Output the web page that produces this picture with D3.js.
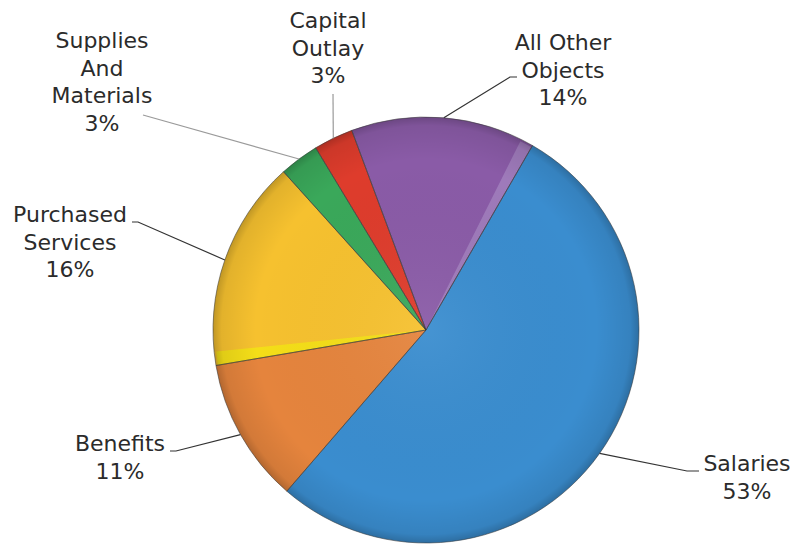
<!DOCTYPE html>
<html>
<head>
<meta charset="utf-8">
<script src="https://cdn.jsdelivr.net/npm/d3@7"></script>
<style>
  html, body { margin: 0; padding: 0; background: #fff; }
  svg { display: block; }
  text { font-family: "DejaVu Sans", Verdana, sans-serif; font-size: 22px; fill: #2b2b2b; }
</style>
</head>
<body>
<svg id="chart" width="795" height="552"></svg>
<script>
// Expenditure shares by object, in percent (clockwise from Salaries)
const categories = ["Salaries", "Benefits", "Purchased Services", "Supplies And Materials", "Capital Outlay", "All Other Objects"];
const shares = [53, 11, 16, 3, 3, 14];
const labelLines = [
  ["Salaries", "53%"],
  ["Benefits", "11%"],
  ["Purchased", "Services", "16%"],
  ["Supplies", "And", "Materials", "3%"],
  ["Capital", "Outlay", "3%"],
  ["All Other", "Objects", "14%"]
];

// Presentation settings
const colors = ["#3a8dcf", "#e5843d", "#f6c12f", "#3aa85a", "#de3c2c", "#8a5ba7"];
const bevels = [null, null, "start", null, null, "end"];   // lit edge of each wedge
const bevelColors = [null, null, "#f4e116", null, null, "#a07dbc"];
const bevelWidths = [0, 0, 0.065, 0, 0, 0.06];
const labelLayout = [
  { x: 747, y: 471, leader: [[699, 471], [687, 471]], stroke: "#333" },
  { x: 120, y: 451, leader: [[170, 451], [176, 451]], stroke: "#333" },
  { x: 70,  y: 222, leader: [[132, 222], [138, 222]], stroke: "#333" },
  { x: 102, y: 48,  leader: [[143, 115]], stroke: "#9a9a9a" },
  { x: 328, y: 28,  leader: [[333, 94]], stroke: "#9a9a9a" },
  { x: 563, y: 50,  leader: [[517, 77], [510, 77]], stroke: "#333" }
];
const lineGap = 27.6;
const cx = 426, cy = 330, radius = 213;
const startDeg = 30;

const svg = d3.select("#chart");
const defs = svg.append("defs");

// Soft shading: slightly lighter centre, darker rim
const shade = defs.append("radialGradient").attr("id", "shade")
  .attr("cx", "50%").attr("cy", "50%").attr("r", "50%");
shade.append("stop").attr("offset", "0%").attr("stop-color", "#fff").attr("stop-opacity", 0.06);
shade.append("stop").attr("offset", "80%").attr("stop-color", "#000").attr("stop-opacity", 0.0);
shade.append("stop").attr("offset", "96%").attr("stop-color", "#000").attr("stop-opacity", 0.08);
shade.append("stop").attr("offset", "100%").attr("stop-color", "#000").attr("stop-opacity", 0.22);

const a0 = startDeg * Math.PI / 180;
const pie = d3.pie().sort(null).startAngle(a0).endAngle(a0 + 2 * Math.PI);
const arcs = pie(shares);
const arc = d3.arc().innerRadius(0).outerRadius(radius);
const bevelArc = d3.arc().innerRadius(6).outerRadius(radius - 2);

const g = svg.append("g").attr("transform", `translate(${cx},${cy})`);

g.selectAll("path.slice").data(arcs).join("path")
  .attr("class", "slice")
  .attr("d", arc)
  .attr("fill", (d, i) => colors[i]);

// Lit bevel bands along one radial edge of some wedges
g.selectAll("path.bevel").data(arcs.filter((d, i) => bevels[i])).join("path")
  .attr("class", "bevel")
  .attr("d", d => {
    const w = bevelWidths[d.index];
    const s = bevels[d.index] === "start" ? d.startAngle : d.endAngle - w;
    return bevelArc({ startAngle: s, endAngle: s + w });
  })
  .attr("fill", d => bevelColors[d.index])
  .attr("opacity", 0.9);

g.append("circle").attr("r", radius).attr("fill", "url(#shade)");

g.selectAll("path.edge").data(arcs).join("path")
  .attr("class", "edge")
  .attr("d", arc)
  .attr("fill", "none")
  .attr("stroke", "#3a3a3a")
  .attr("stroke-opacity", 0.55)
  .attr("stroke-width", 1);

// Leader lines run from each label to the middle of its wedge's rim
arcs.forEach((d, i) => {
  const mid = (d.startAngle + d.endAngle) / 2;
  const edge = [cx + radius * Math.sin(mid), cy - radius * Math.cos(mid)];
  const L = labelLayout[i];
  svg.append("path")
    .attr("d", d3.line()([...L.leader, edge]))
    .attr("fill", "none")
    .attr("stroke", L.stroke)
    .attr("stroke-width", 1.2);
  const t = svg.append("text").attr("text-anchor", "middle");
  labelLines[i].forEach((line, k) => {
    t.append("tspan").attr("x", L.x).attr("y", L.y + k * lineGap).text(line);
  });
});
</script>
</body>
</html>
